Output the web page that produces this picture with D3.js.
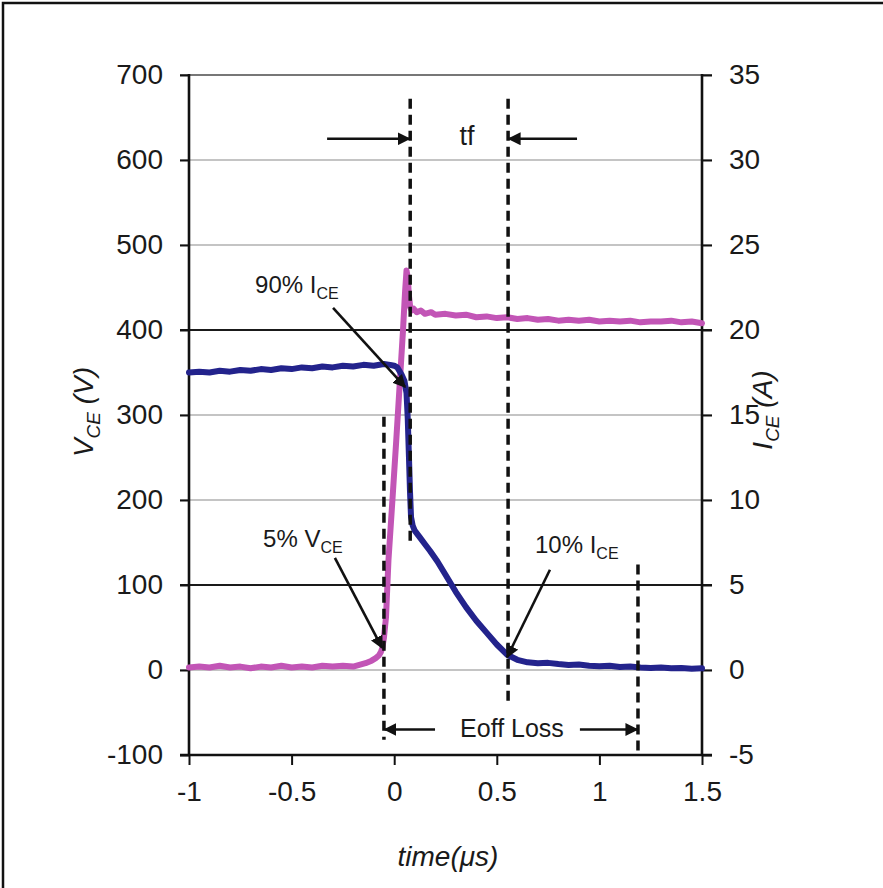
<!DOCTYPE html>
<html><head><meta charset="utf-8">
<script src="https://cdn.jsdelivr.net/npm/d3@7"></script>
<style>body{margin:0;background:#fff}svg{display:block}text{font-family:"Liberation Sans",Arial,sans-serif;fill:#1a1a1a}</style>
</head><body>
<script>
// ---------- data ----------
const xTicks = [-1, -0.5, 0, 0.5, 1, 1.5];
const xTickLabels = ["-1", "-0.5", "0", "0.5", "1", "1.5"];
const yLeftTicks = [-100, 0, 100, 200, 300, 400, 500, 600, 700];
const yLeftLabels = ["-100", "0", "100", "200", "300", "400", "500", "600", "700"];
const yRightTicks = [-5, 0, 5, 10, 15, 20, 25, 30, 35];
const yRightLabels = ["-5", "0", "5", "10", "15", "20", "25", "30", "35"];
const darkGrid = [100, 400];

// VCE (V) - purple, left axis
const vceTime = [-1.0,-0.95,-0.9,-0.85,-0.8,-0.75,-0.7,-0.65,-0.6,-0.55,-0.5,-0.45,-0.4,-0.35,-0.3,-0.25,-0.2,-0.17,-0.14,-0.11,-0.09,-0.075,-0.065,-0.058,-0.05,-0.04,-0.028,-0.01,0.01,0.028,0.043,0.053,0.06,0.066,0.072,0.078,0.085,0.095,0.11,0.13,0.15,0.18,0.2,0.25,0.3,0.35,0.4,0.45,0.5,0.55,0.6,0.65,0.7,0.75,0.8,0.85,0.9,0.95,1.0,1.05,1.1,1.15,1.2,1.25,1.3,1.35,1.4,1.45,1.5];
const vceVolt = [3,4,3,5,3,4,2,4,3,5,3,4,3,5,4,5,4,6,8,11,14,17,21,26,38,62,129,195,270,341,400,445,470,462,440,427,423,425,421,423,419,421,418,419,417,418,415,416,414,415,413,414,412,413,411,412,411,412,410,411,410,411,409,410,410,411,409,410,408];

// ICE (A) - blue, right axis
const iceTime = [-1.0,-0.95,-0.9,-0.85,-0.8,-0.75,-0.7,-0.65,-0.6,-0.55,-0.5,-0.45,-0.4,-0.35,-0.3,-0.25,-0.2,-0.15,-0.1,-0.05,-0.02,0.0,0.015,0.035,0.05,0.06,0.066,0.072,0.077,0.082,0.09,0.1,0.125,0.15,0.175,0.21,0.25,0.3,0.35,0.4,0.45,0.5,0.55,0.6,0.65,0.7,0.75,0.8,0.85,0.9,0.95,1.0,1.05,1.1,1.15,1.2,1.25,1.3,1.35,1.4,1.45,1.5];
const iceAmp = [17.5,17.55,17.5,17.6,17.55,17.65,17.6,17.7,17.65,17.75,17.7,17.8,17.75,17.85,17.8,17.9,17.85,17.95,17.9,18.0,17.95,17.9,17.8,17.4,17.0,16.3,14.8,12.5,10.5,9.0,8.5,8.2,7.8,7.4,7.0,6.4,5.6,4.6,3.7,2.9,2.2,1.5,0.9,0.6,0.45,0.4,0.42,0.35,0.3,0.32,0.25,0.22,0.25,0.18,0.2,0.15,0.12,0.15,0.1,0.12,0.08,0.1];

// dashed marker lines: time, top (V), bottom (V)
const markTime = [0.078, 0.555, -0.05, 1.188];
const markTop = [672, 672, 298, 124];
const markBottom = [145, -38, -82, -97];

// arrows: [t0, v0, t1, v1]  (left-axis units)
const arrowFrom = [[-0.327,625],[0.891,625],[0.199,-70],[0.905,-70],[-0.298,426],[-0.289,132],[0.759,118]];
const arrowTo   = [[0.074,625],[0.559,625],[-0.046,-70],[1.184,-70],[0.053,333],[-0.059,26],[0.550,15]];

// annotation labels
const annoMain = ["90% I", "5% V", "10% I"];
const annoSub = ["CE", "CE", "CE"];
const annoPos = [[-0.678,443],[-0.639,145],[0.686,138]];

// ---------- drawing ----------
const W = 883, H = 888;
const svg = d3.select("body").append("svg").attr("width", W).attr("height", H);

svg.append("rect").attr("x",3).attr("y",3).attr("width",W+20).attr("height",H+20)
  .attr("fill","none").attr("stroke","#111").attr("stroke-width",2.5);

const x = d3.scaleLinear().domain([-1, 1.5]).range([189, 702]);
const yL = d3.scaleLinear().domain([-100, 700]).range([755, 75]);
const yR = d3.scaleLinear().domain([-5, 35]).range([755, 75]);

// gridlines
const grid = svg.append("g");
yLeftTicks.filter(v => v > -100).forEach(v => {
  const dark = darkGrid.includes(v);
  grid.append("line").attr("x1", x(-1) - 9).attr("x2", x(1.5) + 10)
    .attr("y1", yL(v)).attr("y2", yL(v))
    .attr("stroke", dark ? "#1a1a1a" : (v === 700 ? "#777" : "#8a8a8a"))
    .attr("stroke-width", dark ? 1.8 : (v === 700 ? 2.2 : 1.2));
});

// axes
const axL = svg.append("g").attr("transform", `translate(${x(-1)},0)`)
  .call(d3.axisLeft(yL).tickValues(yLeftTicks).tickFormat((d,i)=>yLeftLabels[i]).tickSize(9).tickPadding(17));
const axR = svg.append("g").attr("transform", `translate(${x(1.5)},0)`)
  .call(d3.axisRight(yR).tickValues(yRightTicks).tickFormat((d,i)=>yRightLabels[i]).tickSize(10).tickPadding(17));
const axB = svg.append("g").attr("transform", `translate(0,${yL(-100)})`)
  .call(d3.axisBottom(x).tickValues(xTicks).tickFormat((d,i)=>xTickLabels[i]).tickSize(10).tickPadding(16));
[axL, axR, axB].forEach(a => {
  a.select(".domain").remove();
  a.selectAll(".tick line").attr("stroke", "#111").attr("stroke-width", 2);
  a.selectAll(".tick text").attr("font-size", 28).attr("fill", "#1a1a1a")
    .attr("font-family", '"Liberation Sans",Arial,sans-serif');
});
axB.selectAll(".tick text").attr("dy", "0.72em");
svg.append("line").attr("x1", x(-1)).attr("x2", x(-1)).attr("y1", yL(700)-1).attr("y2", yL(-100)+1).attr("stroke","#111").attr("stroke-width",2.6);
svg.append("line").attr("x1", x(1.5)).attr("x2", x(1.5)).attr("y1", yL(700)-1).attr("y2", yL(-100)+1).attr("stroke","#111").attr("stroke-width",2.6);
svg.append("line").attr("x1", x(-1)-9).attr("x2", x(1.5)+10).attr("y1", yL(-100)).attr("y2", yL(-100)).attr("stroke","#111").attr("stroke-width",2.6);

// curves
const vceData = vceTime.map((t,i)=>[t, vceVolt[i]]);
const iceData = iceTime.map((t,i)=>[t, iceAmp[i]]);
svg.append("path").datum(vceData)
  .attr("d", d3.line().x(d=>x(d[0])).y(d=>yL(d[1])))
  .attr("fill","none").attr("stroke","#c255b6").attr("stroke-width",6)
  .attr("stroke-linejoin","round").attr("stroke-linecap","round");
svg.append("path").datum(iceData)
  .attr("d", d3.line().x(d=>x(d[0])).y(d=>yR(d[1])))
  .attr("fill","none").attr("stroke","#23238c").attr("stroke-width",6)
  .attr("stroke-linejoin","round").attr("stroke-linecap","round");

// dashed markers
markTime.forEach((t,i)=>{
  svg.append("line").attr("x1", x(t)).attr("x2", x(t))
    .attr("y1", yL(markTop[i])).attr("y2", yL(markBottom[i]))
    .attr("stroke","#111").attr("stroke-width",3.5).attr("stroke-dasharray","10,6");
});

// arrows
const defs = svg.append("defs");
defs.append("marker").attr("id","ah").attr("viewBox","0 0 10 10").attr("refX",9).attr("refY",5)
  .attr("markerWidth",5).attr("markerHeight",5).attr("orient","auto").attr("markerUnits","strokeWidth")
  .append("path").attr("d","M0,0 L10,5 L0,10 Z").attr("fill","#111");
arrowFrom.forEach((a,i)=>{
  const b = arrowTo[i];
  svg.append("line").attr("x1", x(a[0])).attr("y1", yL(a[1]))
    .attr("x2", x(b[0])).attr("y2", yL(b[1]))
    .attr("stroke","#111").attr("stroke-width",2.6).attr("marker-end","url(#ah)");
});

// text annotations
svg.append("text").attr("x", x(0.355)).attr("y", yL(618)).attr("text-anchor","middle")
  .attr("font-size",27).text("tf");
svg.append("text").attr("x", x(0.574)).attr("y", yL(-79)).attr("text-anchor","middle")
  .attr("font-size",25).text("Eoff Loss");
annoMain.forEach((m,i)=>{
  const t = svg.append("text").attr("x", x(annoPos[i][0])).attr("y", yL(annoPos[i][1])).attr("font-size",24);
  t.append("tspan").text(m);
  t.append("tspan").attr("font-size",16).attr("dy",6).text(annoSub[i]);
});

// axis titles
const lt = svg.append("text").attr("transform","translate(93,412) rotate(-90)").attr("text-anchor","middle")
  .attr("font-size",28).attr("font-style","italic");
lt.append("tspan").text("V");
lt.append("tspan").attr("font-size",19).attr("dy",7).text("CE");
lt.append("tspan").attr("dy",-7).text(" (V)");
const rt = svg.append("text").attr("transform","translate(772,410) rotate(-90)").attr("text-anchor","middle")
  .attr("font-size",28).attr("font-style","italic");
rt.append("tspan").text("I");
rt.append("tspan").attr("font-size",19).attr("dy",7).text("CE");
rt.append("tspan").attr("dy",-7).text(" (A)");
svg.append("text").attr("x", 448).attr("y", 866).attr("text-anchor","middle")
  .attr("font-size",28).attr("font-style","italic").text("time(μs)");
</script>
</body></html>
